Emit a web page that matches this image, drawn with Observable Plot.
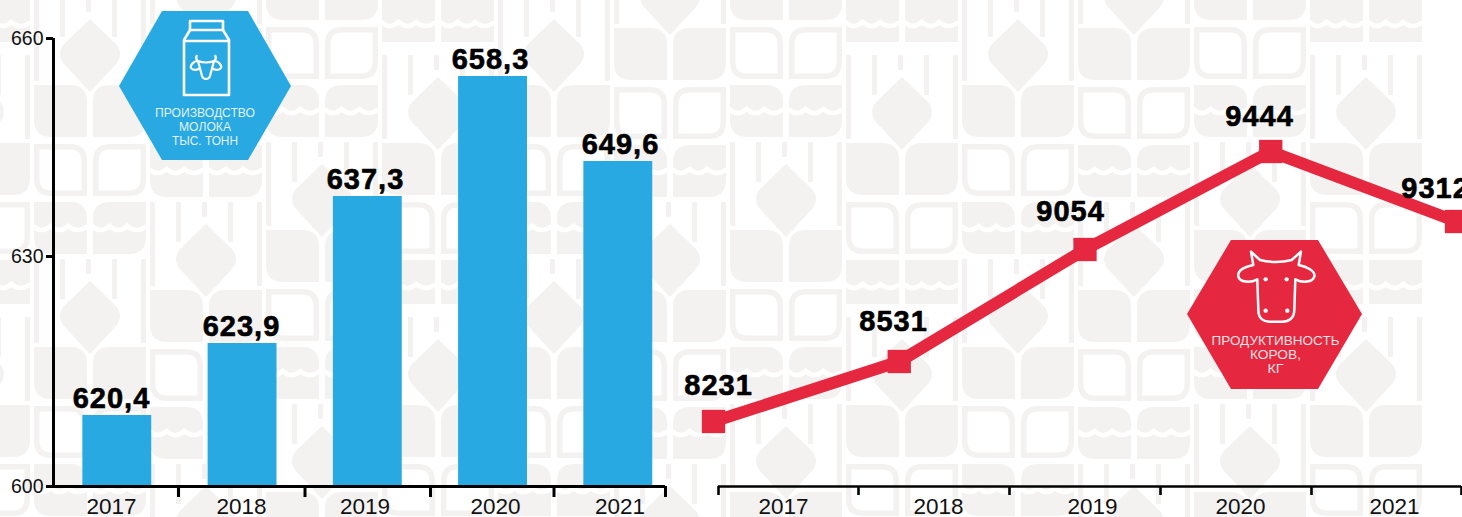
<!DOCTYPE html>
<html lang="ru">
<head>
<meta charset="utf-8">
<script src="https://cdn.jsdelivr.net/npm/d3@7"></script>
<script src="https://cdn.jsdelivr.net/npm/@observablehq/plot@0.6"></script>
<style>
html,body{margin:0;padding:0;background:#fff;overflow:hidden}
#stage{position:relative;width:1462px;height:517px;overflow:hidden;font-family:"Liberation Sans",sans-serif}
#stage>svg,#stage>figure{position:absolute;left:0;top:0;margin:0}
.hexText{font-family:"Liberation Sans",sans-serif;font-size:13.6px;fill:#fff;fill-opacity:.88;text-anchor:middle}
.valueLabels text{letter-spacing:1px}
</style>
</head>
<body>
<div id="stage"></div>
<script>
// ---- data ----
const years = [2017, 2018, 2019, 2020, 2021];
const milkValues = [620.4, 623.9, 637.3, 658.3, 649.6];
const milkLabels = ["620,4", "623,9", "637,3", "658,3", "649,6"];
const yieldValues = [8231, 8531, 9054, 9444, 9312];
const milkTicks = [600, 630, 660];
const leftBounds = [2017.5, 2018.5, 2019.5, 2020.5, 2021.5];
const rightBounds = [2016.5, 2017.5, 2018.5, 2019.5, 2020.5, 2021.5];

const milk = years.map((year, i) => ({year, value: milkValues[i], label: milkLabels[i]}));
const cows = years.map((year, i) => ({year, value: yieldValues[i]}));

const BLUE = "#29a9e1", RED = "#e5283f", TILE = "#f3f2f1";
const W = 1462, H = 517;
const stage = document.getElementById("stage");

// ---- decorative backdrop tiles ----
function half(x, y, w, h, r, mirror) {
  return mirror
    ? `M${x+r} ${y}H${x+w}V${y+h-r}Q${x+w} ${y+h} ${x+w-r} ${y+h}H${x}V${y+r}Q${x} ${y} ${x+r} ${y}Z`
    : `M${x} ${y}H${x+w-r}Q${x+w} ${y} ${x+w} ${y+r}V${y+h}H${x+r}Q${x} ${y+h} ${x} ${y+h-r}Z`;
}
function pair(x, y, h, r, inset) {
  const w = 53;
  const o = inset || 0;
  return half(x+o, y+o, w-2*o, h-2*o, r-o, false) + half(x+59+o, y+o, w-2*o, h-2*o, r-o, true);
}
function tileSolid(x, y) { return `<path d="${pair(x,y,52,17)}" fill="${TILE}"/>`; }
function tileOutline(x, y) { return `<path d="${pair(x,y,52,17)}${pair(x,y,52,17,5.5)}" fill="${TILE}" fill-rule="evenodd"/>`; }
function wave(x, y) {
  const s = 53 / 3;
  return `M${x-1} ${y}q${s/2} 8 ${s} 0q${s/2} 8 ${s} 0q${s/2} 8 ${s+2} 0`;
}
function tileWave(x, y, flat) {
  const body = flat
    ? `M${x} ${y}H${x+53}V${y+44}H${x}Z M${x+59} ${y}H${x+112}V${y+44}H${x+59}Z`
    : pair(x, y, 52, 17);
  return `<path d="${body}" fill="${TILE}"/>
    <path d="${wave(x, y+24)}" fill="none" stroke="#fff" stroke-width="4.5"/>
    <path d="${wave(x+59, y+24)}" fill="none" stroke="#fff" stroke-width="4.5"/>`;
}
function tileDrop(x, y) {
  const bars = [[0,84],[26,40],[52,15],[78,40],[107,84]];
  const rects = bars.map(([dx,h]) => `<rect x="${x+dx}" y="${y}" width="5" height="${h}" fill="${TILE}"/>`).join("");
  const c = x + 56;
  const d = `M${c} ${y+22}L${c+26} ${y+47}Q${c+34} ${y+57} ${c+26} ${y+67}L${c} ${y+95}L${c-26} ${y+67}Q${c-34} ${y+57} ${c-26} ${y+47}Z`;
  return rects + `<path d="${d}" fill="${TILE}"/>`;
}
const colOffsets = [-32, 143, 85, 28];
let tiles = "";
for (let c = -3; c < 10; c++) {
  const X = 266 + 116 * c;
  const k = ((c % 4) + 4) % 4;
  for (let r = -2; r < 3; r++) {
    const Y = colOffsets[k] + 262 * r;
    tiles += tileDrop(X, Y + 174);
    tiles += tileSolid(X, Y);
    tiles += tileOutline(X, Y + 59);
    tiles += tileWave(X, Y + 117, k === 1);
  }
}
stage.insertAdjacentHTML("beforeend", `<svg width="${W}" height="${H}" aria-hidden="true">${tiles}</svg>`);

// ---- chart layers ----
// The picture's bars are not on a straight axis, so the y scale runs through its read positions.
const milkY = {type: "linear",
  domain: [598.4, 600, 620.4, 623.9, 630, 637.3, 649.6, 658.3, 660],
  range: [497, 486, 415, 343, 256, 196, 161, 76, 38]};

function layer(options) {
  stage.appendChild(Plot.plot({
    width: W, height: H, margin: 0,
    style: {background: "transparent", fontFamily: "'Liberation Sans',sans-serif", overflow: "hidden"},
    ...options
  }));
}
const valueFont = {fontFamily: "'Liberation Sans',sans-serif", fontWeight: 700, fontSize: 29, fill: "#000", stroke: "#000", strokeWidth: 0.6, lineAnchor: "bottom"};
const yearFont = {fontSize: 22.5, fill: "#111", lineAnchor: "bottom"};

// Left: bars
layer({
  x: {type: "band", domain: years, range: [26, 708.6], padding: 0.45, round: false, axis: null},
  y: {...milkY, axis: null},
  marks: [Plot.rectY(milk, {x: "year", y1: 600, y2: "value", fill: BLUE})]
});
// Left: axes and year labels
const leftX = {type: "linear",
  domain: [2016.3, 2016.4, 2017, 2017.5, 2018, 2018.5, 2019, 2019.5, 2020, 2020.5, 2021, 2021.5],
  range: [46, 53, 111, 178, 241, 304.5, 364.5, 430, 495, 553.5, 619.5, 665], axis: null};
layer({
  marginLeft: 53,
  x: leftX,
  y: {...milkY, axis: null},
  marks: [
    Plot.ruleY([600], {x1: 2016.3, x2: 2021.5, stroke: "#000", strokeWidth: 3}),
    Plot.ruleX(leftBounds, {y1: 598.4, y2: 600, stroke: "#000", strokeWidth: 3}),
    Plot.ruleX([2016.4], {y1: 600, y2: 660, stroke: "#000", strokeWidth: 3}),
    Plot.axisY(milkTicks, {anchor: "left", tickSize: 7, tickPadding: 3, strokeWidth: 3, stroke: "#000", fontSize: 19.5, fill: "#111", tickFormat: "d", label: null}),
    Plot.text(years, {x: d => d, y: 598.4, dy: 16, text: d => String(d), ...yearFont})
  ]
});
// Left: value labels (their centres follow the year labels)
layer({
  className: "valueLabels",
  x: {type: "linear", domain: years, range: [111, 241, 365, 490, 620], axis: null},
  y: {...milkY, axis: null},
  marks: [Plot.text(milk, {x: "year", y: "value", dy: -8, text: "label", ...valueFont})]
});

// Right: line and squares
layer({
  x: {type: "linear", domain: [2017, 2021], range: [713, 1456], axis: null},
  y: {type: "linear", domain: [8231, 8531, 9054, 9312, 9444], range: [421, 361, 249, 221, 151], axis: null},
  marks: [
    Plot.line(cows, {x: "year", y: "value", stroke: RED, strokeWidth: 12, strokeLinejoin: "miter"}),
    Plot.dot(cows, {x: "year", y: "value", symbol: "square", r: 13.15, fill: RED})
  ]
});
// Right: value labels
layer({
  className: "valueLabels",
  x: {type: "linear", domain: years, range: [718, 893, 1070, 1259, 1435], axis: null},
  y: {type: "linear", domain: [8231, 8531, 9054, 9312, 9444], range: [394, 330, 220, 197, 125], axis: null},
  marks: [Plot.text(cows, {x: "year", y: "value", text: d => String(d.value), ...valueFont})]
});
// Right: year axis
layer({
  x: {type: "linear",
      domain: [2016.5, 2017, 2017.5, 2018, 2018.5, 2019, 2019.5, 2020, 2020.5, 2021, 2021.5],
      range: [718, 783, 858, 938, 1009, 1092, 1160, 1240, 1311, 1394, 1461], axis: null},
  y: {type: "linear", domain: [0, 1], range: [486, 495], axis: null},
  marks: [
    Plot.ruleY([0], {x1: 2016.5, x2: 2021.5, stroke: "#000", strokeWidth: 2.6}),
    Plot.ruleX(rightBounds, {y1: 0, y2: 1, stroke: "#000", strokeWidth: 2.6}),
    Plot.text(years, {x: d => d, y: 1, dy: 18, text: d => String(d), ...yearFont})
  ]
});

// ---- badges ----
const cowPath = "M330 420 Q378 432 425 420 L453 395 L446 435 C470 440 497 452 493 470 C488 487 458 490 436 478 L433 570 C433 595 415 605 398 605 L358 605 C340 605 325 595 325 570 L322 478 C300 490 270 487 265 470 C262 450 285 440 310 435 L303 395 Z";
const spots = [[347,478],[410,478],[347,572],[412,572]];
const smallCow = "M198 61 Q206 64 214 61 L210 76 Q209 79 206 79 Q203 79 202 76 Z M198 61 C193 61 190 66 191 68 C193 71 198 70 200 68 M214 61 C219 61 222 66 221 68 C219 71 214 70 212 68 M198 61 Q195 59 197 55 M214 61 Q217 59 215 55";
function hexLine(x, y, len, s) {
  return `<text class="hexText" x="${x}" y="${y}" textLength="${len}" lengthAdjust="spacingAndGlyphs">${s}</text>`;
}
stage.insertAdjacentHTML("beforeend", `
<svg width="${W}" height="${H}">
  <polygon points="119,86 162,11 248,11 291,86 248,160 162,160" fill="${BLUE}"/>
  <g fill="none" stroke="#fff" stroke-width="2.6" stroke-linejoin="round">
    <rect x="190" y="21" width="33" height="9"/>
    <path d="M190 30 L184 40 V95 H229 V40 L223 30"/>
    <path d="M184 41 H229"/>
    <path d="${smallCow}" stroke-width="2.2"/>
  </g>
  ${hexLine(205, 117, 100, "ПРОИЗВОДСТВО")}
  ${hexLine(205, 131, 52, "МОЛОКА")}
  ${hexLine(205, 145, 66, "ТЫС. ТОНН")}

  <polygon points="1187,314 1231,240 1318,240 1362,314 1318,389 1231,389" fill="${RED}"/>
  <g transform="translate(1150 120) scale(.3333)">
    <path d="${cowPath}" fill="none" stroke="#fff" stroke-width="7.5" stroke-linejoin="round"/>
    ${spots.map(([x,y]) => `<circle cx="${x}" cy="${y}" r="6.5" fill="#fff"/>`).join("")}
  </g>
  ${hexLine(1275.5, 345, 128, "ПРОДУКТИВНОСТЬ")}
  ${hexLine(1275.5, 359, 51, "КОРОВ,")}
  ${hexLine(1275.5, 373, 16, "КГ")}
</svg>`);
</script>
</body>
</html>
